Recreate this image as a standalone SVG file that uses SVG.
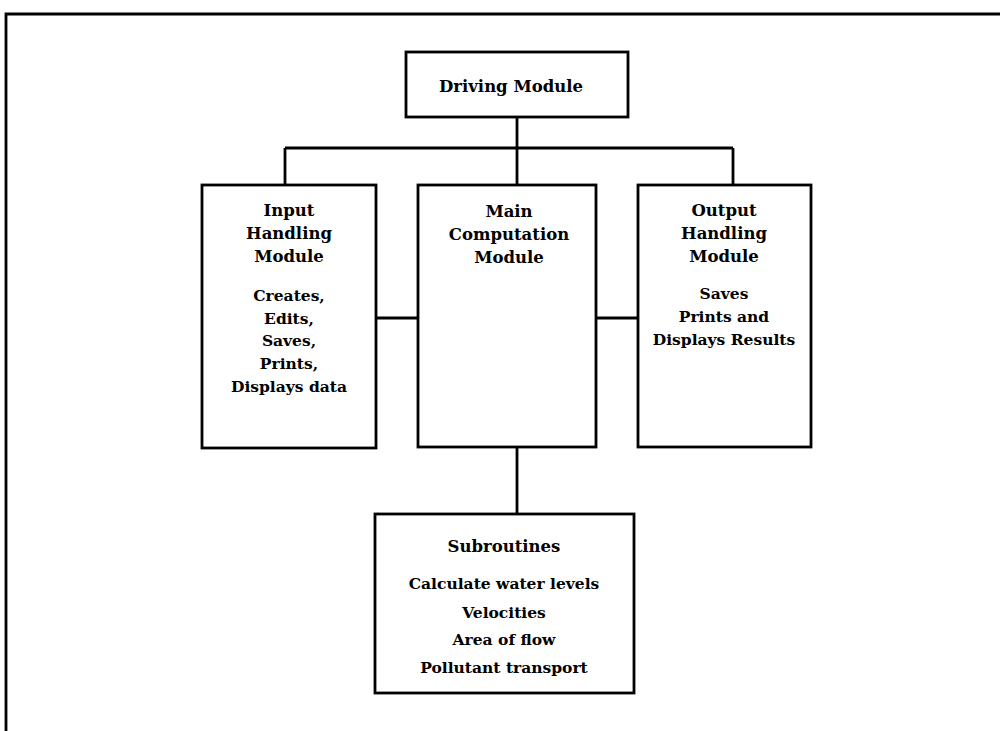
<svg xmlns="http://www.w3.org/2000/svg" width="1000" height="731" viewBox="0 0 1000 731">
<style>
.box{fill:#fff;stroke:#000;stroke-width:2.8}
.ln{fill:none;stroke:#000;stroke-width:2.8}
text{font-family:"DejaVu Serif","Liberation Serif",serif;font-weight:bold;font-size:15.5px;fill:#000;text-anchor:middle}
.t{font-size:16.5px}
</style>
<rect width="1000" height="731" fill="#fff"/>
<path class="ln" d="M6,740 V14 H1010"/>
<g id="connectors">
<path class="ln" d="M517,117 V148 M285,148 H733 M285,148 V185 M517,148 V185 M733,148 V185"/>
<path class="ln" d="M376,318 H418 M596,318 H638 M517,447 V514"/>
</g>
<g id="driving">
<rect class="box" x="406" y="52" width="222" height="65"/>
<text class="t" x="511" y="92">Driving Module</text>
</g>
<g id="input">
<rect class="box" x="202" y="185" width="174" height="263"/>
<text class="t" x="289" y="216">Input</text>
<text class="t" x="289" y="239">Handling</text>
<text class="t" x="289" y="262">Module</text>
<text x="289" y="301">Creates,</text>
<text x="289" y="324">Edits,</text>
<text x="289" y="346">Saves,</text>
<text x="289" y="369">Prints,</text>
<text x="289" y="392">Displays data</text>
</g>
<g id="main">
<rect class="box" x="418" y="185" width="178" height="262"/>
<text class="t" x="509" y="217">Main</text>
<text class="t" x="509" y="240">Computation</text>
<text class="t" x="509" y="263">Module</text>
</g>
<g id="output">
<rect class="box" x="638" y="185" width="173" height="262"/>
<text class="t" x="724" y="216">Output</text>
<text class="t" x="724" y="239">Handling</text>
<text class="t" x="724" y="262">Module</text>
<text x="724" y="299">Saves</text>
<text x="724" y="322">Prints and</text>
<text x="724" y="345">Displays Results</text>
</g>
<g id="subroutines">
<rect class="box" x="375" y="514" width="259" height="179"/>
<text class="t" x="504" y="552">Subroutines</text>
<text x="504" y="589">Calculate water levels</text>
<text x="504" y="618">Velocities</text>
<text x="504" y="645">Area of flow</text>
<text x="504" y="673">Pollutant transport</text>
</g>
</svg>
